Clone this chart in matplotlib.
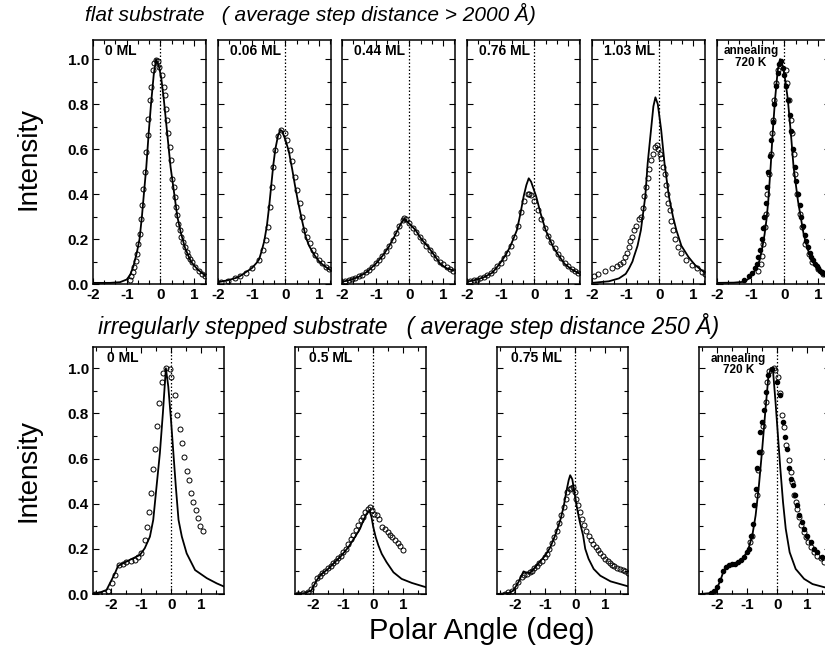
import matplotlib.pyplot as plt
from matplotlib.ticker import MultipleLocator

W, H = 825, 647

# ---------- top row: flat substrate ----------
t_labels = ['0 ML', '0.06 ML', '0.44 ML', '0.76 ML', '1.03 ML', 'annealing\n720 K']

t1_line_x = [-2.0, -1.5, -1.2, -1.0, -0.9, -0.8, -0.7, -0.62, -0.55, -0.48, -0.42, -0.35, -0.28,
             -0.2, -0.13, -0.05, 0.02, 0.1, 0.2, 0.3, 0.4, 0.5, 0.6, 0.73, 0.9, 1.1, 1.35]
t1_line_y = [0.005, 0.005, 0.008, 0.02, 0.04, 0.08, 0.14, 0.2, 0.3, 0.42, 0.52, 0.67, 0.8,
             0.93, 1.0, 0.97, 0.92, 0.82, 0.67, 0.52, 0.41, 0.3, 0.23, 0.16, 0.1, 0.065, 0.035]
t1_dots_x = [-0.9, -0.86, -0.82, -0.77, -0.72, -0.69, -0.66, -0.62, -0.59, -0.55, -0.51, -0.47, -0.42,
             -0.38, -0.36, -0.32, -0.28, -0.23, -0.18, -0.13, -0.08, -0.03, 0.04, 0.1, 0.12, 0.15,
             0.2, 0.22, 0.27, 0.31, 0.34, 0.39, 0.42, 0.45, 0.49, 0.52, 0.57, 0.62, 0.68, 0.73,
             0.78, 0.83, 0.88, 0.93, 1.03, 1.13, 1.23, 1.33]
t1_dots_y = [0.02, 0.035, 0.052, 0.074, 0.104, 0.134, 0.179, 0.223, 0.29, 0.35, 0.424, 0.5, 0.588,
             0.662, 0.732, 0.818, 0.878, 0.952, 0.982, 0.997, 0.99, 0.967, 0.93, 0.878, 0.84, 0.78,
             0.729, 0.67, 0.61, 0.55, 0.466, 0.432, 0.387, 0.342, 0.305, 0.268, 0.238, 0.208, 0.186,
             0.164, 0.141, 0.126, 0.112, 0.097, 0.074, 0.06, 0.045, 0.037]

t2_line_x = [-2.0, -1.7, -1.4, -1.24, -1.0, -0.85, -0.78, -0.7, -0.63, -0.55, -0.48, -0.42, -0.36,
             -0.3, -0.22, -0.15, -0.1, 0.0, 0.1, 0.2, 0.28, 0.38, 0.48, 0.6, 0.7, 0.85, 1.0, 1.15, 1.35]
t2_line_y = [0.008, 0.017, 0.03, 0.046, 0.07, 0.095, 0.11, 0.15, 0.19, 0.26, 0.35, 0.44, 0.53,
             0.6, 0.66, 0.685, 0.68, 0.64, 0.59, 0.51, 0.44, 0.36, 0.29, 0.21, 0.17, 0.13, 0.1, 0.08, 0.06]
t2_dots_x = [-1.9, -1.7, -1.5, -1.35, -1.18, -0.98, -0.78, -0.66, -0.58, -0.52, -0.45, -0.41, -0.36,
             -0.3, -0.22, -0.12, -0.02, 0.06, 0.13, 0.2, 0.28, 0.35, 0.43, 0.5, 0.56, 0.63, 0.72,
             0.81, 0.89, 0.99, 1.09, 1.19, 1.29]
t2_dots_y = [0.01, 0.015, 0.025, 0.035, 0.048, 0.069, 0.107, 0.151, 0.196, 0.255, 0.344, 0.433, 0.522,
             0.596, 0.656, 0.685, 0.67, 0.641, 0.596, 0.545, 0.478, 0.418, 0.359, 0.3, 0.24, 0.211,
             0.181, 0.151, 0.129, 0.107, 0.092, 0.077, 0.065]

t3_line_x = [-2.0, -1.75, -1.5, -1.25, -1.0, -0.8, -0.61, -0.45, -0.35, -0.25, -0.15, -0.05, 0.05,
             0.18, 0.35, 0.55, 0.75, 0.91, 1.1, 1.31]
t3_line_y = [0.01, 0.018, 0.032, 0.055, 0.09, 0.125, 0.166, 0.21, 0.24, 0.27, 0.29, 0.275, 0.26,
             0.24, 0.2, 0.166, 0.125, 0.09, 0.07, 0.06]
t3_dots_x = [-1.9, -1.8, -1.7, -1.6, -1.5, -1.4, -1.3, -1.2, -1.1, -1.0, -0.9, -0.8, -0.7, -0.6,
             -0.5, -0.4, -0.3, -0.2, -0.15, -0.1, 0.0, 0.1, 0.2, 0.3, 0.4, 0.5, 0.6, 0.7, 0.8,
             0.9, 1.0, 1.1, 1.2, 1.3]
t3_dots_y = [0.013, 0.017, 0.022, 0.028, 0.034, 0.042, 0.052, 0.064, 0.077, 0.092, 0.108, 0.126,
             0.146, 0.168, 0.195, 0.225, 0.256, 0.283, 0.292, 0.287, 0.27, 0.25, 0.23, 0.21, 0.19,
             0.17, 0.15, 0.132, 0.116, 0.1, 0.087, 0.076, 0.067, 0.058]

t4_line_x = [-2.0, -1.75, -1.5, -1.25, -1.03, -0.85, -0.72, -0.6, -0.52, -0.42, -0.32, -0.24, -0.17,
             -0.1, -0.02, 0.05, 0.18, 0.33, 0.45, 0.55, 0.7, 0.89, 1.1, 1.34]
t4_line_y = [0.01, 0.018, 0.03, 0.05, 0.09, 0.13, 0.166, 0.21, 0.24, 0.31, 0.39, 0.44, 0.47, 0.455,
             0.42, 0.39, 0.315, 0.24, 0.2, 0.166, 0.13, 0.09, 0.065, 0.046]
t4_dots_x = [-1.9, -1.8, -1.7, -1.6, -1.5, -1.4, -1.3, -1.2, -1.1, -1.0, -0.9, -0.8, -0.7, -0.6,
             -0.5, -0.4, -0.3, -0.2, -0.15, -0.1, 0.0, 0.1, 0.2, 0.3, 0.4, 0.5, 0.6, 0.7, 0.8,
             0.9, 1.0, 1.1, 1.2, 1.3]
t4_dots_y = [0.012, 0.016, 0.02, 0.026, 0.033, 0.04, 0.05, 0.062, 0.078, 0.095, 0.115, 0.14, 0.17,
             0.21, 0.26, 0.32, 0.37, 0.4, 0.4, 0.395, 0.37, 0.33, 0.29, 0.25, 0.215, 0.185, 0.16,
             0.135, 0.115, 0.095, 0.08, 0.068, 0.058, 0.05]

t5_line_x = [-2.0, -1.5, -1.2, -1.0, -0.9, -0.8, -0.76, -0.65, -0.55, -0.42, -0.35, -0.25, -0.18,
             -0.12, -0.05, 0.05, 0.15, 0.28, 0.4, 0.5, 0.65, 0.86, 1.05, 1.26, 1.35]
t5_line_y = [0.005, 0.012, 0.025, 0.045, 0.07, 0.1, 0.12, 0.17, 0.24, 0.39, 0.536, 0.686, 0.79,
             0.83, 0.8, 0.686, 0.536, 0.39, 0.3, 0.24, 0.17, 0.12, 0.085, 0.06, 0.05]
t5_dots_x = [-1.95, -1.82, -1.6, -1.41, -1.25, -1.16, -1.08, -1.01, -0.95, -0.91, -0.86, -0.81,
             -0.75, -0.7, -0.62, -0.55, -0.5, -0.45, -0.4, -0.35, -0.3, -0.25, -0.2, -0.14, -0.08,
             -0.03, 0.01, 0.05, 0.1, 0.15, 0.19, 0.22, 0.26, 0.3, 0.35, 0.4, 0.47, 0.55, 0.65,
             0.8, 0.95, 1.1, 1.25, 1.36]
t5_dots_y = [0.035, 0.046, 0.058, 0.07, 0.08, 0.09, 0.1, 0.12, 0.14, 0.166, 0.19, 0.21, 0.24,
             0.26, 0.29, 0.3, 0.34, 0.39, 0.43, 0.47, 0.51, 0.55, 0.58, 0.61, 0.62, 0.6, 0.58,
             0.56, 0.52, 0.49, 0.44, 0.4, 0.36, 0.33, 0.28, 0.24, 0.2, 0.166, 0.14, 0.107, 0.085,
             0.07, 0.055, 0.046]

t6_line_x = [-2.0, -1.5, -1.19, -1.05, -0.94, -0.84, -0.74, -0.66, -0.59, -0.53, -0.48, -0.41,
             -0.35, -0.28, -0.2, -0.13, -0.05, 0.03, 0.1, 0.19, 0.27, 0.4, 0.57, 0.7, 0.82, 1.08, 1.35]
t6_line_y = [0.005, 0.006, 0.01, 0.025, 0.045, 0.07, 0.104, 0.16, 0.22, 0.29, 0.37, 0.52, 0.67,
             0.82, 0.95, 1.0, 0.97, 0.9, 0.82, 0.67, 0.52, 0.37, 0.22, 0.15, 0.104, 0.045, 0.025]
t6_dots_x = [-0.79, -0.71, -0.67, -0.64, -0.59, -0.55, -0.51, -0.46, -0.4, -0.37, -0.33, -0.3,
             -0.25, -0.2, 0.04, 0.08, 0.14, 0.18, 0.22, 0.27, 0.32, 0.38, 0.45, 0.52, 0.62, 0.73,
             0.83, 0.98, 1.13]
t6_dots_y = [0.06, 0.09, 0.126, 0.179, 0.253, 0.313, 0.4, 0.49, 0.58, 0.67, 0.729, 0.818, 0.893,
             0.95, 0.95, 0.893, 0.818, 0.729, 0.67, 0.58, 0.49, 0.4, 0.313, 0.253, 0.179, 0.134,
             0.097, 0.067, 0.045]
t6_fill_x = [-1.2, -1.05, -0.95, -0.88, -0.82, -0.77, -0.72, -0.68, -0.64, -0.6, -0.56, -0.52,
             -0.48, -0.44, -0.4, -0.35, -0.3, -0.25, -0.2, -0.15, -0.1, -0.05, 0.0, 0.05, 0.1,
             0.15, 0.2, 0.25, 0.3, 0.35, 0.4, 0.45, 0.5, 0.55, 0.6, 0.65, 0.7, 0.75, 0.8, 0.85,
             0.9, 0.95, 1.0, 1.05, 1.1, 1.15, 1.2]
t6_fill_y = [0.02, 0.035, 0.05, 0.07, 0.09, 0.12, 0.15, 0.2, 0.25, 0.3, 0.36, 0.43, 0.5, 0.57,
             0.64, 0.72, 0.8, 0.88, 0.94, 0.98, 0.99, 0.96, 0.93, 0.88, 0.82, 0.75, 0.68, 0.6,
             0.52, 0.46, 0.4, 0.35, 0.3, 0.26, 0.22, 0.19, 0.165, 0.14, 0.12, 0.105, 0.09, 0.08,
             0.07, 0.06, 0.055, 0.05, 0.045]

# ---------- bottom row: irregularly stepped substrate ----------
b_labels = ['0 ML', '0.5 ML', '0.75 ML', 'annealing\n720 K']

b1_line_x = [-2.6, -2.38, -2.15, -2.04, -1.87, -1.77, -1.6, -1.38, -1.04, -0.88, -0.71, -0.6, -0.49,
             -0.38, -0.28, -0.18, -0.1, -0.01, 0.07, 0.15, 0.24, 0.35, 0.51, 0.79, 1.18, 1.51, 1.75]
b1_line_y = [0.003, 0.006, 0.018, 0.047, 0.092, 0.124, 0.136, 0.151, 0.173, 0.203, 0.254, 0.328,
             0.476, 0.623, 0.8, 1.0, 0.919, 0.771, 0.623, 0.476, 0.328, 0.254, 0.18, 0.106, 0.07,
             0.047, 0.033]
b1_dots_x = [-2.55, -2.39, -2.22, -2.09, -1.98, -1.87, -1.73, -1.6, -1.49, -1.35, -1.22, -1.1,
             -1.0, -0.88, -0.8, -0.74, -0.67, -0.6, -0.53, -0.46, -0.4, -0.32, -0.27, -0.18, -0.04,
             0.0, 0.12, 0.18, 0.29, 0.37, 0.43, 0.51, 0.58, 0.66, 0.73, 0.81, 0.89, 0.96, 1.05]
b1_dots_y = [0.0, 0.0, 0.003, 0.012, 0.047, 0.084, 0.128, 0.135, 0.143, 0.148, 0.152, 0.165,
             0.18, 0.239, 0.298, 0.362, 0.449, 0.554, 0.641, 0.746, 0.848, 0.94, 0.978, 1.0, 0.995,
             0.963, 0.882, 0.793, 0.731, 0.668, 0.605, 0.546, 0.504, 0.446, 0.406, 0.372, 0.338,
             0.303, 0.281]

b2_line_x = [-2.59, -2.28, -2.06, -1.89, -1.72, -1.5, -1.28, -1.06, -0.83, -0.61, -0.44, -0.33,
             -0.22, -0.13, -0.06, 0.0, 0.08, 0.17, 0.28, 0.44, 0.67, 0.94, 1.28, 1.75]
b2_line_y = [0.0, 0.004, 0.015, 0.059, 0.089, 0.111, 0.141, 0.17, 0.207, 0.252, 0.289, 0.326,
             0.356, 0.37, 0.341, 0.296, 0.252, 0.215, 0.178, 0.141, 0.096, 0.067, 0.049, 0.03]
b2_dots_x = [-2.5, -2.33, -2.17, -2.06, -1.97, -1.86, -1.78, -1.69, -1.59, -1.5, -1.41, -1.33,
             -1.24, -1.17, -1.08, -1.0, -0.92, -0.83, -0.74, -0.67, -0.58, -0.5, -0.41, -0.33,
             -0.26, -0.17, -0.11, -0.03, 0.03, 0.11, 0.19, 0.3, 0.39, 0.48, 0.56, 0.63, 0.72,
             0.81, 0.89, 0.97]
b2_dots_y = [0.0, 0.004, 0.01, 0.022, 0.044, 0.07, 0.081, 0.093, 0.104, 0.114, 0.126, 0.138,
             0.148, 0.159, 0.17, 0.185, 0.2, 0.222, 0.244, 0.262, 0.284, 0.307, 0.326, 0.341,
             0.363, 0.378, 0.385, 0.37, 0.356, 0.348, 0.333, 0.296, 0.289, 0.274, 0.262, 0.252,
             0.24, 0.227, 0.212, 0.193]

b3_line_x = [-2.59, -2.22, -2.06, -1.89, -1.72, -1.61, -1.5, -1.33, -1.17, -1.0, -0.83, -0.67,
             -0.5, -0.39, -0.3, -0.22, -0.17, -0.1, -0.03, 0.06, 0.15, 0.26, 0.33, 0.44, 0.61,
             0.83, 1.17, 1.75]
b3_line_y = [0.0, 0.004, 0.015, 0.052, 0.1, 0.094, 0.093, 0.119, 0.144, 0.17, 0.207, 0.259,
             0.326, 0.385, 0.452, 0.504, 0.526, 0.508, 0.452, 0.378, 0.319, 0.259, 0.2, 0.156,
             0.111, 0.081, 0.056, 0.034]
b3_dots_x = [-2.33, -2.22, -2.11, -2.0, -1.89, -1.78, -1.7, -1.61, -1.52, -1.44, -1.36, -1.28,
             -1.19, -1.11, -1.02, -0.94, -0.86, -0.78, -0.7, -0.61, -0.53, -0.46, -0.39, -0.32,
             -0.26, -0.19, -0.13, -0.08, -0.02, 0.03, 0.1, 0.17, 0.23, 0.3, 0.37, 0.44, 0.52,
             0.6, 0.68, 0.76, 0.83, 0.91, 0.99, 1.07, 1.14, 1.22, 1.3, 1.39, 1.48, 1.57, 1.66, 1.74]
b3_dots_y = [0.0, 0.007, 0.015, 0.034, 0.055, 0.074, 0.084, 0.089, 0.096, 0.104, 0.114, 0.126,
             0.136, 0.148, 0.163, 0.178, 0.2, 0.227, 0.252, 0.281, 0.316, 0.348, 0.385, 0.419,
             0.452, 0.467, 0.47, 0.474, 0.452, 0.422, 0.393, 0.363, 0.333, 0.304, 0.281, 0.259,
             0.241, 0.222, 0.207, 0.193, 0.181, 0.167, 0.156, 0.145, 0.136, 0.129, 0.123, 0.117,
             0.111, 0.107, 0.1, 0.093]

b4_line_x = [-2.56, -2.22, -2.03, -1.89, -1.78, -1.63, -1.44, -1.28, -1.11, -0.96, -0.83, -0.72,
             -0.61, -0.5, -0.39, -0.3, -0.22, -0.14, -0.06, 0.02, 0.1, 0.19, 0.28, 0.41, 0.61,
             0.89, 1.17, 1.56, 1.75]
b4_line_y = [0.0, 0.004, 0.019, 0.059, 0.104, 0.126, 0.133, 0.141, 0.163, 0.2, 0.259, 0.348,
             0.481, 0.644, 0.822, 0.956, 1.0, 0.985, 0.852, 0.704, 0.556, 0.407, 0.289, 0.185,
             0.111, 0.067, 0.044, 0.03, 0.026]
b4_dots_x = [-0.89, -0.83, -0.69, -0.63, -0.53, -0.47, -0.39, -0.33, -0.26, -0.11, -0.06, 0.03,
             0.08, 0.17, 0.22, 0.3, 0.39, 0.44, 0.5, 0.56, 0.61, 0.67, 0.72, 0.78, 0.89, 0.94,
             1.03, 1.11, 1.22, 1.33, 1.44, 1.56]
b4_dots_y = [0.23, 0.259, 0.437, 0.548, 0.63, 0.745, 0.852, 0.941, 0.988, 1.0, 0.993, 0.963,
             0.889, 0.793, 0.741, 0.659, 0.593, 0.541, 0.496, 0.437, 0.407, 0.378, 0.341, 0.304,
             0.274, 0.252, 0.23, 0.207, 0.185, 0.17, 0.159, 0.141]
b4_fill_x = [-2.2, -2.1, -2.0, -1.9, -1.8, -1.7, -1.6, -1.5, -1.4, -1.3, -1.2, -1.1, -1.0, -0.94,
             -0.87, -0.81, -0.78, -0.72, -0.67, -0.61, -0.56, -0.5, -0.44, -0.37, -0.3, -0.17,
             0.0, 0.08, 0.19, 0.26, 0.33, 0.39, 0.44, 0.52, 0.59, 0.67, 0.72, 0.81, 0.89, 1.0,
             1.11, 1.22, 1.33, 1.5]
b4_fill_y = [0.005, 0.015, 0.03, 0.06, 0.1, 0.12, 0.128, 0.132, 0.135, 0.14, 0.15, 0.165, 0.185,
             0.2, 0.259, 0.311, 0.393, 0.467, 0.556, 0.63, 0.719, 0.763, 0.815, 0.896, 0.97,
             0.997, 0.941, 0.881, 0.763, 0.696, 0.644, 0.556, 0.511, 0.481, 0.437, 0.393, 0.348,
             0.319, 0.289, 0.259, 0.23, 0.2, 0.185, 0.163]

top = [
    (t1_line_x, t1_line_y, t1_dots_x, t1_dots_y, None, None),
    (t2_line_x, t2_line_y, t2_dots_x, t2_dots_y, None, None),
    (t3_line_x, t3_line_y, t3_dots_x, t3_dots_y, None, None),
    (t4_line_x, t4_line_y, t4_dots_x, t4_dots_y, None, None),
    (t5_line_x, t5_line_y, t5_dots_x, t5_dots_y, None, None),
    (t6_line_x, t6_line_y, t6_dots_x, t6_dots_y, t6_fill_x, t6_fill_y),
]
bottom = [
    (b1_line_x, b1_line_y, b1_dots_x, b1_dots_y, None, None),
    (b2_line_x, b2_line_y, b2_dots_x, b2_dots_y, None, None),
    (b3_line_x, b3_line_y, b3_dots_x, b3_dots_y, None, None),
    (b4_line_x, b4_line_y, b4_dots_x, b4_dots_y, b4_fill_x, b4_fill_y),
]

plt.rcParams['font.family'] = ['Liberation Sans', 'DejaVu Sans']

fig = plt.figure(figsize=(W / 100, H / 100), dpi=100)


def add_panel(left, top_px, width, height, xlim, ylim, data, label, show_y, xminor):
    ax = fig.add_axes([left / W, 1 - (top_px + height) / H, width / W, height / H])
    lx, ly, dx, dy, fx, fy = data
    ax.axvline(0, color='black', lw=0.9, ls=(0, (1.2, 1.6)))
    ax.plot(lx, ly, color='black', lw=1.3)
    ax.plot(dx, dy, 'o', mfc='none', mec='black', ms=3.6, mew=0.7)
    if fx is not None:
        ax.plot(fx, fy, 'o', color='black', ms=3.0)
    ax.set_xlim(*xlim)
    ax.set_ylim(*ylim)
    ax.xaxis.set_major_locator(MultipleLocator(1))
    ax.xaxis.set_minor_locator(MultipleLocator(xminor))
    ax.yaxis.set_major_locator(MultipleLocator(0.2))
    ax.yaxis.set_minor_locator(MultipleLocator(0.1))
    ax.tick_params(which='both', direction='in', top=True, right=True, width=0.8)
    ax.tick_params(which='major', length=4, labelsize=11, pad=3)
    ax.tick_params(which='minor', length=3)
    for s in ax.spines.values():
        s.set_linewidth(1.1)
    ax.set_xticks([-2, -1, 0, 1])
    ax.set_xticklabels(['-2', '-1', '0', '1'], fontweight='bold')
    if show_y:
        ax.set_yticks([0, 0.2, 0.4, 0.6, 0.8, 1.0])
        ax.set_yticklabels(['0.0', '0.2', '0.4', '0.6', '0.8', '1.0'], fontweight='bold')
    else:
        ax.set_yticklabels([])
    if '\n' in label:
        ax.text(0.3, 0.93, label, transform=ax.transAxes, ha='center', va='center',
                fontsize=8.5, fontweight='bold', linespacing=0.95)
    else:
        ax.text(0.11, 0.955, label, transform=ax.transAxes, ha='left', va='center',
                fontsize=10, fontweight='bold')
    return ax


top_left = [93, 218, 342, 467, 592, 717]
for i, left in enumerate(top_left):
    add_panel(left, 40, 113, 244, (-2.0, 1.35), (0, 1.085), top[i], t_labels[i], i == 0, 1 / 3)

bot_left = [93, 295, 497, 699]
for i, left in enumerate(bot_left):
    add_panel(left, 347, 131, 247, (-2.6, 1.75), (0, 1.094), bottom[i], b_labels[i], i == 0, 0.5)

fig.text(85 / W, 1 - 14 / H, 'flat substrate   ( average step distance > 2000 Å)',
         fontsize=15, style='italic', ha='left', va='center')
fig.text(98 / W, 1 - 326 / H, 'irregularly stepped substrate   ( average step distance 250 Å)',
         fontsize=16.6, style='italic', ha='left', va='center')
fig.text(28 / W, 1 - 158 / H, 'Intensity', fontsize=20, rotation=90, ha='center', va='center')
fig.text(28 / W, 1 - 470 / H, 'Intensity', fontsize=20, rotation=90, ha='center', va='center')
fig.text(482 / W, 1 - 631 / H, 'Polar Angle (deg)', fontsize=21, ha='center', va='center')

fig.savefig('out.png', dpi=100)
